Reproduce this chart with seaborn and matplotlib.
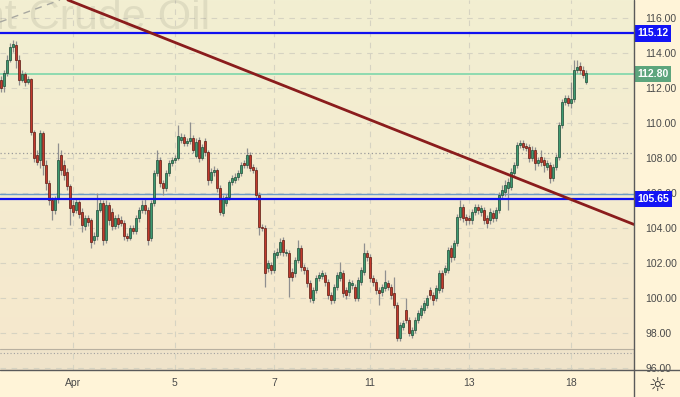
import numpy as np
import pandas as pd
import matplotlib
matplotlib.use("Agg")
import matplotlib.pyplot as plt
import seaborn as sns
from matplotlib.lines import Line2D
import matplotlib.transforms as mtransforms

# ---------------- data ----------------
opens = [112.46, 112.11, 112.86, 113.60, 114.34, 114.46, 113.60, 112.46, 112.80, 112.34,
         112.51, 109.49, 108.17, 107.89, 109.43, 107.60, 106.57, 105.60, 105.03, 105.66,
         108.17, 107.60, 107.20, 106.40, 105.31, 105.03, 105.49, 104.91, 104.11, 104.57,
         104.46, 103.31, 103.54, 105.03, 105.43, 103.31, 105.31, 104.91, 104.11, 104.57,
         104.46, 104.29, 103.54, 103.43, 104.00, 103.83, 104.57, 105.03, 105.31, 105.03,
         103.43, 105.43, 107.14, 107.89, 106.57, 106.29, 107.14, 107.71, 107.89, 108.00,
         109.03, 109.20, 108.86, 108.97, 109.14, 108.11, 109.03, 108.00, 108.97, 108.34,
         106.74, 107.20, 107.31, 106.29, 104.86, 105.43, 105.77, 106.63, 106.74, 106.91,
         107.14, 107.71, 107.60, 108.17, 107.49, 107.31, 105.89, 104.06, 104.00, 101.71,
         101.89, 101.60, 102.46, 102.63, 103.31, 102.57, 102.57, 101.49, 101.43, 102.17,
         102.86, 101.77, 101.60, 100.86, 99.89, 100.46, 101.14, 101.26, 101.31, 100.91,
         100.17, 99.89, 100.63, 101.14, 101.43, 100.46, 100.34, 100.74, 100.63, 100.00,
         100.91, 101.49, 102.57, 102.34, 101.14, 100.91, 100.46, 100.34, 100.57, 100.86,
         100.63, 100.29, 99.60, 97.71, 98.34, 99.31, 98.74, 97.89, 98.17, 98.74,
         99.03, 99.31, 99.60, 100.46, 100.17, 100.00, 100.46, 101.43, 101.49, 101.60,
         102.86, 102.34, 103.14, 104.63, 105.20, 104.63, 104.57, 104.46, 104.91, 105.20,
         104.91, 105.03, 104.57, 104.46, 104.86, 104.57, 105.03, 105.89, 106.06, 106.29,
         106.34, 107.14, 107.60, 108.74, 108.86, 108.69, 108.63, 108.00, 108.46, 107.71,
         108.06, 107.89, 107.49, 107.60, 106.86, 107.49, 108.06, 109.89, 111.20, 111.43,
         111.14, 111.37, 113.03, 113.26, 113.03, 112.34]

closes = [112.00, 112.86, 113.60, 114.34, 114.51, 113.60, 112.46, 112.80, 112.34, 112.51,
          109.49, 108.00, 107.77, 109.43, 107.60, 106.57, 105.60, 105.03, 105.66, 107.89,
          107.31, 107.03, 106.40, 105.14, 104.91, 105.49, 104.80, 104.17, 104.57, 104.34,
          103.20, 103.54, 105.03, 105.43, 103.31, 105.31, 104.46, 104.11, 104.57, 104.23,
          104.29, 103.54, 103.43, 104.00, 103.83, 104.57, 105.03, 105.31, 105.03, 103.31,
          105.43, 107.14, 107.89, 106.57, 106.29, 107.14, 107.71, 107.89, 108.00, 109.26,
          109.20, 108.86, 108.97, 109.14, 108.46, 108.91, 108.00, 108.63, 108.34, 106.74,
          107.20, 107.31, 106.29, 104.91, 105.71, 105.77, 106.63, 106.86, 106.91, 107.14,
          107.60, 107.60, 108.17, 107.43, 107.31, 105.89, 104.06, 104.00, 101.43, 102.00,
          101.60, 102.57, 102.63, 103.20, 102.63, 102.63, 101.20, 101.20, 102.17, 102.86,
          101.77, 101.60, 100.86, 100.00, 100.46, 101.14, 101.31, 101.43, 100.91, 100.17,
          99.89, 100.63, 101.31, 101.49, 100.29, 100.17, 100.91, 100.86, 100.00, 101.03,
          101.60, 102.57, 102.34, 101.14, 100.91, 100.46, 100.29, 100.63, 100.91, 100.63,
          100.17, 99.60, 97.71, 98.46, 98.57, 98.74, 98.00, 98.17, 98.74, 99.14,
          99.43, 99.71, 100.00, 100.17, 99.89, 100.57, 101.43, 100.57, 101.71, 102.74,
          102.34, 103.14, 104.63, 105.20, 104.57, 104.46, 104.46, 104.91, 105.20, 105.03,
          105.14, 104.46, 104.29, 104.91, 104.57, 105.03, 105.89, 106.17, 106.46, 106.63,
          107.20, 107.60, 108.74, 108.86, 108.63, 108.57, 108.00, 108.46, 107.71, 107.89,
          107.77, 107.60, 107.71, 106.86, 107.49, 108.06, 109.89, 111.20, 111.43, 111.14,
          111.37, 113.03, 113.20, 113.03, 112.74, 112.86]

highs = [112.69, 113.03, 113.89, 114.57, 114.74, 114.69, 113.89, 113.03, 112.91, 112.69,
         112.57, 109.60, 108.46, 109.60, 109.54, 107.89, 106.74, 105.77, 105.83, 108.86,
         108.46, 107.89, 107.43, 106.51, 105.60, 105.66, 105.60, 105.14, 104.74, 104.74,
         104.57, 103.77, 106.00, 105.71, 105.60, 105.60, 105.49, 105.14, 104.74, 104.80,
         104.69, 104.46, 103.71, 104.17, 104.17, 104.74, 105.20, 105.60, 105.71, 105.20,
         105.60, 107.31, 108.46, 108.06, 106.74, 107.31, 107.89, 108.06, 108.17, 109.89,
         109.43, 109.37, 109.14, 110.06, 109.31, 109.14, 109.20, 108.80, 109.14, 108.46,
         107.43, 107.54, 107.43, 106.46, 105.89, 105.94, 106.74, 107.03, 107.14, 107.31,
         107.77, 107.89, 108.57, 108.34, 107.66, 107.49, 106.06, 104.23, 104.17, 102.17,
         102.06, 102.74, 102.86, 103.43, 103.49, 102.80, 102.74, 101.71, 102.34, 103.31,
         103.03, 101.94, 101.77, 101.03, 100.63, 101.31, 101.49, 101.60, 101.49, 101.09,
         100.34, 100.80, 101.49, 102.06, 101.60, 100.63, 101.09, 101.03, 100.80, 101.20,
         101.77, 103.14, 102.74, 102.51, 101.31, 101.09, 100.63, 100.80, 101.60, 101.03,
         100.80, 101.20, 99.77, 98.63, 98.74, 100.00, 98.91, 98.34, 98.91, 99.31,
         99.60, 99.89, 100.17, 100.63, 100.34, 100.74, 101.60, 101.60, 101.89, 102.91,
         103.03, 103.31, 104.80, 105.60, 105.37, 104.80, 104.74, 105.09, 105.37, 105.37,
         105.31, 105.20, 104.74, 105.14, 105.03, 105.20, 106.06, 106.46, 106.74, 106.86,
         107.43, 107.77, 108.91, 109.03, 109.03, 108.86, 108.80, 108.69, 108.63, 108.06,
         108.46, 108.06, 107.89, 107.77, 107.66, 108.23, 110.06, 111.37, 111.60, 111.60,
         112.34, 113.60, 113.60, 113.49, 113.26, 113.03]

lows = [111.77, 111.77, 112.69, 113.49, 114.06, 113.14, 112.17, 112.34, 112.11, 112.23,
        109.31, 107.77, 107.60, 107.43, 107.03, 106.17, 105.31, 104.46, 104.80, 105.43,
        107.03, 106.74, 106.17, 104.17, 104.69, 104.86, 104.57, 103.77, 103.89, 104.11,
        102.86, 103.09, 103.31, 104.91, 103.03, 103.14, 104.17, 103.89, 103.94, 104.00,
        104.11, 103.31, 103.26, 103.31, 103.66, 103.66, 104.34, 104.86, 104.80, 103.03,
        103.26, 105.26, 106.97, 106.34, 105.89, 106.11, 106.97, 107.54, 107.71, 107.89,
        108.86, 108.69, 108.69, 108.80, 108.29, 108.00, 107.77, 107.89, 108.11, 106.46,
        106.57, 106.97, 106.06, 104.74, 104.69, 105.26, 105.60, 106.46, 106.57, 106.74,
        106.97, 107.43, 107.43, 107.26, 107.14, 105.60, 103.60, 103.83, 100.63, 101.49,
        101.37, 101.43, 102.29, 102.46, 102.40, 102.40, 100.06, 100.97, 101.20, 102.00,
        101.54, 101.37, 100.63, 99.77, 99.71, 100.29, 100.97, 101.09, 100.69, 99.94,
        99.66, 99.71, 100.46, 100.97, 100.06, 99.94, 100.11, 100.51, 99.83, 99.83,
        100.74, 101.31, 102.11, 100.91, 100.69, 100.23, 99.60, 100.11, 100.40, 100.46,
        99.94, 99.43, 97.54, 97.54, 98.17, 98.57, 97.83, 97.71, 98.00, 98.57,
        98.86, 99.14, 99.43, 99.94, 99.60, 99.83, 100.29, 100.34, 101.31, 101.43,
        102.06, 102.17, 102.97, 104.46, 104.34, 104.17, 104.23, 104.23, 104.74, 104.80,
        104.69, 104.23, 104.00, 104.23, 104.34, 104.40, 104.86, 105.71, 105.83, 105.03,
        106.17, 106.97, 107.43, 108.57, 108.46, 108.40, 107.77, 107.83, 107.31, 107.54,
        107.54, 107.20, 107.31, 106.57, 106.69, 107.31, 107.89, 109.71, 111.03, 110.97,
        110.86, 111.20, 112.86, 112.80, 112.57, 112.23]

day_labels = ["Apr", "5", "7", "11", "13", "18"]
day_start_idx = [24, 58, 91, 123, 156, 190]
price_ticks = [96, 98, 100, 102, 104, 106, 108, 110, 112, 114, 116]

level_upper = 115.12
level_lower = 105.65
level_green = 112.80
level_lightblue = 105.92
level_dotted = 108.29
level_bottom_solid = 97.06
level_bottom_dotted = 96.86

trend_idx = [50.4, 189.7]
trend_price = [115.12, 105.65]
dash_idx = [-0.3, 19.7]
dash_price = [115.77, 117.03]

title_text = "Brent Crude Oil"

# ---------------- figure ----------------
sns.set_theme(style="white")
plt.rcParams["font.family"] = ["DejaVu Sans"]

W, H = 680, 397
fig = plt.figure(figsize=(W / 100, H / 100), dpi=100)
fig.patch.set_facecolor("#FFF4D8")
ax = fig.add_axes([0, 27 / H, 634 / W, 370 / H])

xmin, xmax = -0.3, 211.0
ymin, ymax = 95.886, 117.029
ax.set_xlim(xmin, xmax)
ax.set_ylim(ymin, ymax)

# gradient background
g = np.linspace(0, 1, 256)[:, None, None]
top = np.array([242, 239, 210]) / 255
bot = np.array([246, 232, 205]) / 255
img = top * (1 - g) + bot * g
ax.imshow(img, extent=[xmin, xmax, ymin, ymax], aspect="auto",
          origin="upper", zorder=0, interpolation="bilinear")

# bottom shaded band
ax.axhspan(ymin, level_bottom_solid, color="#E8DEC8", alpha=0.45, zorder=0.5, lw=0)
ax.axhline(level_bottom_solid, color="#B8B0A0", lw=0.8, zorder=1)
ax.axhline(level_bottom_dotted, color="#A0A0A0", lw=0.8, ls=(0, (1, 2)), zorder=1)

# grid
for p in price_ticks:
    ax.axhline(p, color="#D6D3C2", lw=0.8, ls=(0, (5, 5)), zorder=1)
for d in day_start_idx:
    ax.axvline(d, color="#D6D3C2", lw=0.8, ls=(0, (5, 5)), zorder=1)

# watermark (cut at the left edge, as in the source chart)
ax.text(210 / 634, 1 - 18 / 370, title_text, transform=ax.transAxes,
        ha="right", va="center", fontsize=31, color="#000000", alpha=0.075,
        family="Liberation Sans", zorder=1)

# level lines
ax.axhline(level_dotted, color="#9A9A9A", lw=0.9, ls=(0, (1, 2)), zorder=2)
ax.axhline(level_lightblue, color="#6C9CC8", lw=1.0, zorder=2)
ax.axhline(level_green, color="#86D9AD", lw=1.3, zorder=2)

# candles
df = pd.DataFrame({"open": opens, "high": highs, "low": lows, "close": closes})
df["idx"] = np.arange(len(df))
up = df["close"] >= df["open"]
ax.vlines(df["idx"], df["low"], df["high"], color="#8F8F8F", lw=0.9, zorder=3)
body_bottom = np.minimum(df["open"], df["close"])
body_h = np.maximum((df["close"] - df["open"]).abs(), 0.05)
face = np.where(up, "#3D9A70", "#C2392C")
edge = np.where(up, "#1E4A36", "#5A1A12")
ax.bar(df["idx"], body_h, bottom=body_bottom, width=0.85, color=face,
       edgecolor=edge, linewidth=0.5, zorder=4)

# blue levels (on top of candles)
ax.axhline(level_upper, color="#1010F0", lw=1.6, zorder=5)
ax.axhline(level_lower, color="#1010F0", lw=1.6, zorder=5)

# trend line and dashed line
ax.axline((trend_idx[0], trend_price[0]), (trend_idx[1], trend_price[1]),
          color="#8A1C1C", lw=2.0, zorder=6)
ax.axline((dash_idx[0], dash_price[0]), (dash_idx[1], dash_price[1]),
          color="#A8A8A0", lw=1.0, ls=(0, (5, 4)), zorder=6)

# axes / ticks
for s in ["top", "left", "right", "bottom"]:
    ax.spines[s].set_visible(False)
ax.yaxis.tick_right()
ax.set_yticks(price_ticks)
ax.set_yticklabels([f"{p:.2f}" for p in price_ticks])
ax.set_xticks(day_start_idx)
ax.set_xticklabels(day_labels)
ax.tick_params(axis="y", length=0, pad=8, labelsize=7.5, labelcolor="#4A4A4A")
ax.tick_params(axis="x", length=0, pad=6, labelsize=7.5, labelcolor="#4A4A4A")
for lab in ax.get_yticklabels() + ax.get_xticklabels():
    lab.set_family("Liberation Sans")
ax.grid(False)

# price boxes on the right scale
trans = mtransforms.blended_transform_factory(ax.transAxes, ax.transData)
for val, fc in [(level_upper, "#1414F5"), (level_lower, "#1414F5"), (level_green, "#5DA57D")]:
    ax.text(1.0 + 3 / 634, val, f"{val:.2f}", transform=trans, ha="left", va="center",
            fontsize=7.5, color="white", fontweight="bold", family="Liberation Sans",
            bbox=dict(boxstyle="square,pad=0.3", fc=fc, ec="none"),
            clip_on=False, zorder=20)

# frame lines of the price / time scales
fig.add_artist(Line2D([634 / W, 634 / W], [0, 1], color="#5A5A5A", lw=1.0))
fig.add_artist(Line2D([0, 1], [27 / H, 27 / H], color="#5A5A5A", lw=1.0))

# settings icon
fig.text(657 / W, 1 - 385 / H, "\u263C", ha="center", va="center", fontsize=14,
         color="#333333")

fig.savefig("out.png", dpi=100, facecolor=fig.get_facecolor())
